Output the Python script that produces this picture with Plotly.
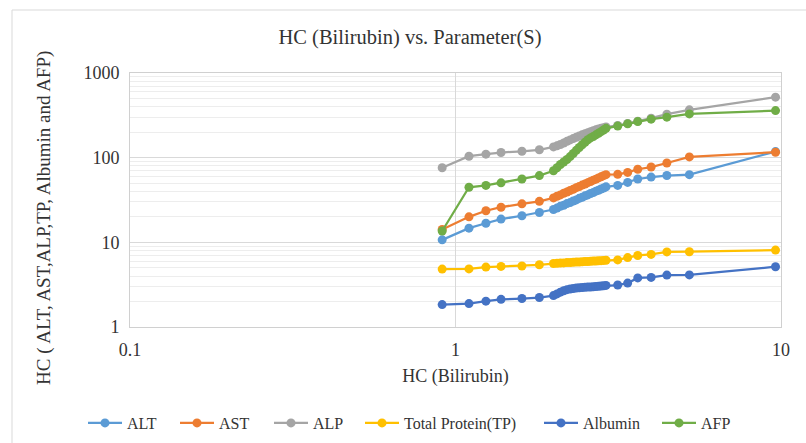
import plotly.graph_objects as go

# Bilirubin (x) and the liver-panel parameters measured against it
bilirubin = [0.91, 1.10, 1.24, 1.38, 1.60, 1.81,
             2.00, 2.05, 2.10, 2.15, 2.20, 2.25, 2.30, 2.35, 2.40, 2.45,
             2.50, 2.55, 2.60, 2.65, 2.70, 2.75, 2.80, 2.85, 2.90,
             3.15, 3.38, 3.63, 3.99, 4.46, 5.23, 9.62]

alt = [10.7, 14.7, 16.8, 18.8, 20.6, 22.5,
       24.4, 25.4, 26.6, 27.4, 28.7, 29.5, 30.8, 31.7, 33.1, 34.0,
       35.4, 36.3, 37.7, 38.7, 40.2, 41.2, 42.7, 43.7, 45.2,
       47.0, 51.0, 56.0, 59.0, 61.5, 63.0, 118.0]

ast = [14.2, 20.0, 23.6, 26.0, 28.5, 30.5,
       33.5, 35.0, 36.3, 38.0, 39.3, 41.0, 42.4, 44.2, 45.6, 47.4,
       48.8, 50.7, 52.3, 54.2, 55.7, 57.7, 59.4, 61.3, 63.0,
       63.5, 67.0, 73.0, 77.5, 86.5, 102.0, 116.0]

alp = [76, 104, 110, 115, 119, 124,
       134, 138, 143, 149, 156, 162, 168, 174, 180, 186,
       192, 197, 203, 208, 213, 218, 222, 226, 230,
       240, 254, 270, 293, 326, 367, 518]

total_protein = [4.83, 4.85, 5.10, 5.20, 5.26, 5.43,
                 5.62, 5.65, 5.70, 5.71, 5.76, 5.78, 5.80, 5.84, 5.86, 5.88,
                 5.92, 5.93, 5.97, 6.00, 6.02, 6.06, 6.08, 6.12, 6.15,
                 6.20, 6.60, 7.00, 7.20, 7.70, 7.75, 8.10]

albumin = [1.84, 1.89, 2.02, 2.12, 2.17, 2.23,
           2.35, 2.46, 2.58, 2.68, 2.76, 2.81, 2.85, 2.88, 2.90, 2.92,
           2.94, 2.96, 2.97, 2.99, 3.01, 3.03, 3.05, 3.07, 3.10,
           3.13, 3.30, 3.80, 3.85, 4.10, 4.12, 5.15]

afp = [13.6, 44.7, 47.0, 50.4, 56.0, 61.4,
       70, 76, 83, 89, 95, 103, 112, 122, 132, 142,
       152, 163, 171, 178, 186, 194, 203, 212, 222,
       236, 251, 267, 285, 301, 329, 360]

series_names = ["ALT", "AST", "ALP", "Total Protein(TP)", "Albumin", "AFP"]
series_values = [alt, ast, alp, total_protein, albumin, afp]
series_colors = ["#5B9BD5", "#ED7D31", "#A5A5A5", "#FFC000", "#4472C4", "#70AD47"]
legend_widths = [43, 45, 42, 130, 69, 30]

FONT = "Liberation Serif"
TEXT = "#333333"

fig = go.Figure()
for name, vals, col, lw in zip(series_names, series_values, series_colors, legend_widths):
    fig.add_trace(go.Scatter(
        x=bilirubin, y=vals, name=name, mode="lines+markers",
        line=dict(color=col, width=2.25),
        marker=dict(color=col, size=9, symbol="circle"),
        legendwidth=lw,
    ))

W, H = 806, 443
L, R, T, B = 130, 25, 73, 116
pw, ph = W - L - R, H - T - B

fig.update_layout(
    width=W, height=H,
    margin=dict(l=L, r=R, t=T, b=B),
    paper_bgcolor="white", plot_bgcolor="white",
    font=dict(family=FONT, color=TEXT),
    title=dict(text="HC (Bilirubin) vs. Parameter(S)", font=dict(size=20.5, color=TEXT, family=FONT),
               xref="container", x=410 / W, xanchor="center",
               yref="container", y=1 - 37 / H, yanchor="middle"),
    showlegend=True,
    legend=dict(orientation="h", xref="container", x=83 / W, xanchor="left",
                yref="container", y=20 / H, yanchor="middle",
                font=dict(size=16, family=FONT, color=TEXT),
                itemwidth=34, bgcolor="rgba(0,0,0,0)", traceorder="normal"),
    xaxis=dict(type="log", range=[-1, 1],
               tickvals=[0.1, 1, 10], ticktext=["0.1", "1", "10"],
               showgrid=True, gridcolor="#D9D9D9", gridwidth=1,
               showline=True, linecolor="#D0D0D0", linewidth=1, mirror=True,
               ticks="", ticklabelstandoff=6,
               tickfont=dict(size=18, family=FONT, color=TEXT),
               title=dict(text="HC (Bilirubin)", font=dict(size=18, family=FONT, color=TEXT),
                          standoff=10),
               zeroline=False),
    yaxis=dict(type="log", range=[0, 3],
               tickvals=[1, 10, 100, 1000], ticktext=["1", "10", "100", "1000"],
               showgrid=True, gridcolor="#D9D9D9", gridwidth=1,
               minor=dict(showgrid=True, gridcolor="#EDEDED", gridwidth=1, dtick="D1", ticks=""),
               showline=True, linecolor="#D0D0D0", linewidth=1, mirror=True,
               ticks="", ticklabelstandoff=6,
               tickfont=dict(size=18, family=FONT, color=TEXT),
               zeroline=False),
)

# vertical axis title
fig.add_annotation(
    text="HC ( ALT, AST,ALP,TP, Albumin and AFP)",
    textangle=-90, showarrow=False,
    xref="paper", yref="paper",
    x=(44 - L) / pw, y=(H - B - 218) / ph,
    xanchor="center", yanchor="middle",
    font=dict(size=19, family=FONT, color=TEXT),
)

# chart-area frame
fig.add_shape(type="rect", xref="paper", yref="paper",
              x0=(12 - L) / pw, x1=1.3, y0=-0.8, y1=(H - B - 10) / ph,
              line=dict(color="#D9D9D9", width=1), fillcolor="rgba(0,0,0,0)", layer="below")

fig.write_html("out.html")
